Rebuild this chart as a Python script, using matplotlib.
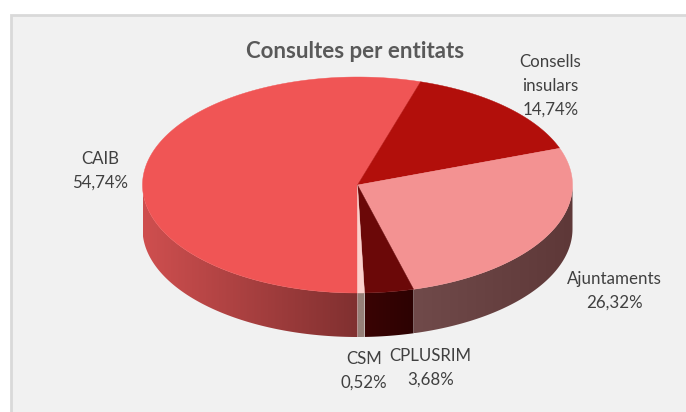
from __future__ import annotations

import matplotlib

matplotlib.use("Agg")
import matplotlib.pyplot as plt
import numpy as np
from matplotlib.colors import LinearSegmentedColormap
from matplotlib.patches import Polygon, Rectangle

plt.rcParams["font.family"] = ["Lato", "DejaVu Sans"]

# clockwise from 6 o'clock
labels = ["CAIB", "Consells\ninsulars", "Ajuntaments", "CPLUSRIM", "CSM"]
shares = [54.74, 14.74, 26.32, 3.68, 0.52]
top_colors = ["#f05555", "#b20f0b", "#f39292", "#6b0808", "#fcd0cc"]
side_left = ["#cf4f4f", "#6a0806", "#704a4a", "#3a0404", "#968078"]
side_right = ["#803030", "#6a0806", "#5e3838", "#2c0202", "#968078"]

CX, CY, RX, RY, DEPTH = 357.5, 185.0, 215.0, 108.0, 44.0

fig = plt.figure(figsize=(6.86, 4.12), dpi=100)
ax = fig.add_axes([0, 0, 1, 1])
ax.set_xlim(0, 686)
ax.set_ylim(412, 0)
ax.axis("off")

ax.add_patch(Rectangle((11, 15), 700, 420, facecolor="#f1f1f1", edgecolor="#d9d9d9", linewidth=2))


def rim(a0, a1):
    t = np.radians(np.linspace(a0, a1, max(int(abs(a1 - a0)) * 2, 2) + 1))
    return CX + RX * np.sin(t), CY - RY * np.cos(t)


edges = 180 + np.cumsum([0] + shares) * 3.6

for i in range(len(shares)):
    a0, a1 = edges[i], edges[i + 1]
    # only the front half of the rim has a visible wall
    vis = []
    for lo, hi in [(90, 270), (450, 630)]:
        if max(a0, lo) < min(a1, hi):
            vis.append((max(a0, lo), min(a1, hi)))
    for lo, hi in vis:
        x, y = rim(lo, hi)
        poly = Polygon(
            np.r_[np.c_[x, y], np.c_[x[::-1], y[::-1] + DEPTH]],
            closed=True,
            transform=ax.transData,
            facecolor="none",
            edgecolor="none",
        )
        ax.add_patch(poly)
        cmap = LinearSegmentedColormap.from_list("wall", [side_left[i], side_right[i]])
        grad = np.linspace(0, 1, 256).reshape(1, -1)
        im = ax.imshow(
            grad,
            extent=(x.min(), x.max(), y.max() + DEPTH, y.min()),
            cmap=cmap,
            aspect="auto",
            zorder=2,
        )
        im.set_clip_path(poly)

for i in range(len(shares)):
    x, y = rim(edges[i], edges[i + 1])
    ax.fill(np.r_[CX, x], np.r_[CY, y], color=top_colors[i], linewidth=0.3, zorder=3)

ax.set_xlim(0, 686)
ax.set_ylim(412, 0)

ax.text(355.5, 51, "Consultes per entitats", ha="center", va="center",
        fontsize=16, fontweight="bold", color="#595959")

label_pos = [(100, 171), (550.5, 86), (614.5, 291), (430.5, 368), (364, 370.5)]
for name, share, (lx, ly) in zip(labels, shares, label_pos):
    pct = f"{share:.2f}".replace(".", ",") + "%"
    ax.text(lx, ly, f"{name}\n{pct}", ha="center", va="center", fontsize=12.2,
            color="#404040", linespacing=1.6, zorder=5)

fig.savefig("out.png", dpi=100)
